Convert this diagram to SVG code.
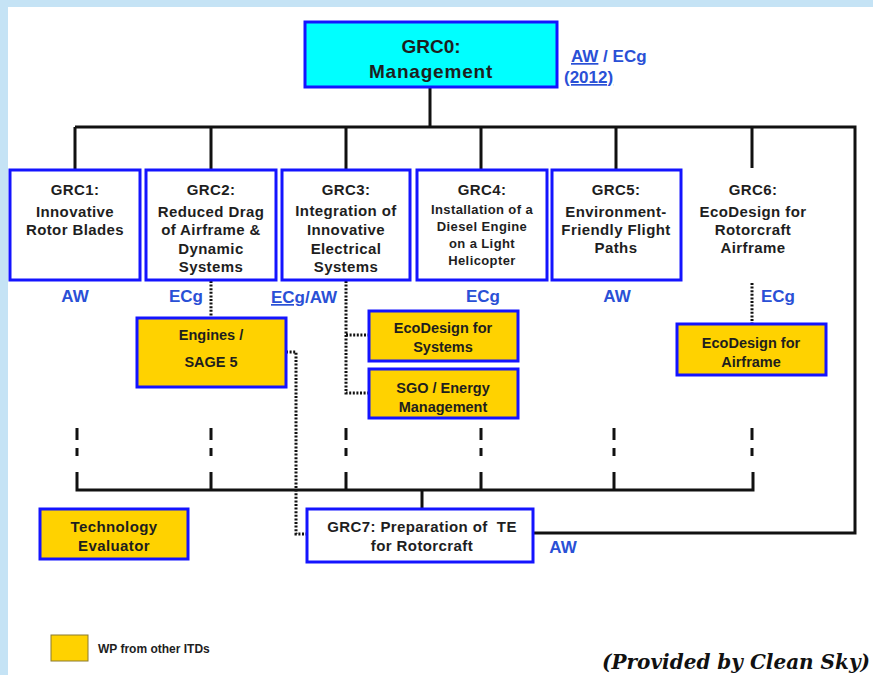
<svg xmlns="http://www.w3.org/2000/svg" width="873" height="675" viewBox="0 0 873 675">
<style>
.bg{fill:#c5e3f5}
.box{fill:#ffffff;stroke:#1414ff;stroke-width:3}
.top{fill:#00ffff;stroke:#1414ff;stroke-width:3}
.wp{fill:#ffd200;stroke:#1414ff;stroke-width:3}
.t{font-family:"Liberation Sans",Arial,sans-serif;font-weight:bold;fill:#1e1e1e;text-anchor:middle}
.g{font-size:15px;letter-spacing:0.4px}
.s{font-size:13px;letter-spacing:0.4px}
.y{font-size:14.5px}
.lab{font-family:"Liberation Sans",Arial,sans-serif;font-weight:bold;fill:#2a50d6;font-size:17px}
.solid{fill:none;stroke:#111;stroke-width:3}
.dot{fill:none;stroke:#111;stroke-width:3;stroke-dasharray:2 1.6}
</style>
<rect x="0" y="0" width="873" height="675" fill="#ffffff"/>
<rect class="bg" x="0" y="0" width="873" height="7"/>
<rect class="bg" x="0" y="0" width="8" height="675"/>

<g id="connectors">
  <path class="solid" d="M430 87 V127 M75 127 H855 V533 H533 M75 127 V170 M211 127 V170 M346 127 V170 M481 127 V170 M616 127 V170 M752 127 V168"/>
  <path class="solid" d="M77 472 V490 H753 V472 M211 472 V490 M346 472 V490 M481 472 V490 M614 472 V490 M422 490 V509"/>
  <path class="solid" d="M77 428 V440 M77 448 V456 M211 428 V440 M211 448 V456 M346 428 V440 M346 448 V456 M481 428 V440 M481 448 V456 M614 428 V440 M614 448 V456 M752 428 V440 M752 448 V456"/>
  <path class="dot" d="M211 281 V318"/>
  <path class="dot" d="M346 281 V393 H369 M346 335 H369"/>
  <path class="dot" d="M286 352 H296 V534 H307"/>
  <path class="dot" d="M752 283 V324"/>
</g>

<g id="grc0">
  <rect class="top" x="305" y="22" width="252" height="65"/>
  <text class="t" x="431" y="53" font-size="19">GRC0:</text>
  <text class="t" x="431" y="78" font-size="19" letter-spacing="0.8">Management</text>
  <text class="lab" x="571" y="62"><tspan text-decoration="underline">AW</tspan> / ECg</text>
  <text class="lab" x="564" y="83" font-size="16" text-decoration="underline">(2012)</text>
</g>

<g id="grc1">
  <rect class="box" x="10" y="170" width="130" height="110"/>
  <text class="t g" x="75" y="195">GRC1:</text>
  <text class="t g" x="75" y="217">Innovative</text>
  <text class="t g" x="75" y="235">Rotor Blades</text>
  <text class="lab" x="75" y="302" text-anchor="middle">AW</text>
</g>

<g id="grc2">
  <rect class="box" x="146" y="170" width="130" height="110"/>
  <text class="t g" x="211" y="195">GRC2:</text>
  <text class="t g" x="211" y="217">Reduced Drag</text>
  <text class="t g" x="211" y="235">of Airframe &amp;</text>
  <text class="t g" x="211" y="254">Dynamic</text>
  <text class="t g" x="211" y="272">Systems</text>
  <text class="lab" x="186" y="302" text-anchor="middle">ECg</text>
</g>

<g id="grc3">
  <rect class="box" x="282" y="170" width="128" height="110"/>
  <text class="t g" x="346" y="195">GRC3:</text>
  <text class="t g" x="346" y="216">Integration of</text>
  <text class="t g" x="346" y="235">Innovative</text>
  <text class="t g" x="346" y="254">Electrical</text>
  <text class="t g" x="346" y="272">Systems</text>
  <text class="lab" x="271" y="303"><tspan text-decoration="underline">ECg</tspan>/AW</text>
</g>

<g id="grc4">
  <rect class="box" x="417" y="170" width="130" height="110"/>
  <text class="t g" x="482" y="195">GRC4:</text>
  <text class="t s" x="482" y="214">Installation of a</text>
  <text class="t s" x="482" y="231">Diesel Engine</text>
  <text class="t s" x="482" y="248">on a Light</text>
  <text class="t s" x="482" y="265">Helicopter</text>
  <text class="lab" x="483" y="302" text-anchor="middle">ECg</text>
</g>

<g id="grc5">
  <rect class="box" x="552" y="170" width="129" height="110"/>
  <text class="t g" x="616" y="195">GRC5:</text>
  <text class="t g" x="616" y="217">Environment-</text>
  <text class="t g" x="616" y="235">Friendly Flight</text>
  <text class="t g" x="616" y="253">Paths</text>
  <text class="lab" x="617" y="302" text-anchor="middle">AW</text>
</g>

<g id="grc6">
  <text class="t g" x="753" y="195">GRC6:</text>
  <text class="t g" x="753" y="217">EcoDesign for</text>
  <text class="t g" x="753" y="235">Rotorcraft</text>
  <text class="t g" x="753" y="253">Airframe</text>
  <text class="lab" x="778" y="302" text-anchor="middle">ECg</text>
</g>

<g id="engines">
  <rect class="wp" x="137" y="318" width="149" height="69"/>
  <text class="t y" x="211" y="340">Engines /</text>
  <text class="t y" x="211" y="367">SAGE 5</text>
</g>

<g id="ecodesign-systems">
  <rect class="wp" x="369" y="311" width="149" height="50"/>
  <text class="t y" x="443" y="333">EcoDesign for</text>
  <text class="t y" x="443" y="352">Systems</text>
</g>

<g id="sgo">
  <rect class="wp" x="369" y="369" width="149" height="49"/>
  <text class="t y" x="443" y="393">SGO / Energy</text>
  <text class="t y" x="443" y="412">Management</text>
</g>

<g id="ecodesign-airframe">
  <rect class="wp" x="677" y="324" width="149" height="51"/>
  <text class="t y" x="751" y="348">EcoDesign for</text>
  <text class="t y" x="751" y="367">Airframe</text>
</g>

<g id="tech-evaluator">
  <rect class="wp" x="40" y="509" width="148" height="50"/>
  <text class="t g" x="114" y="532">Technology</text>
  <text class="t g" x="114" y="551">Evaluator</text>
</g>

<g id="grc7">
  <rect class="box" x="307" y="509" width="226" height="53"/>
  <text class="t g" x="422" y="532" xml:space="preserve">GRC7: Preparation of  TE</text>
  <text class="t g" x="422" y="551">for Rotorcraft</text>
  <text class="lab" x="563" y="553" text-anchor="middle">AW</text>
</g>

<g id="legend">
  <rect x="51" y="635" width="37" height="26" fill="#ffd200" stroke="#8a7a30" stroke-width="1"/>
  <text x="98" y="653" font-family="Liberation Sans, Arial, sans-serif" font-weight="bold" font-size="12" fill="#1e1e1e">WP from other ITDs</text>
</g>

<text x="870" y="669" text-anchor="end" font-family="'DejaVu Serif', 'Liberation Serif', serif" font-weight="bold" font-style="italic" font-size="20" fill="#111">(Provided by Clean Sky)</text>
</svg>
